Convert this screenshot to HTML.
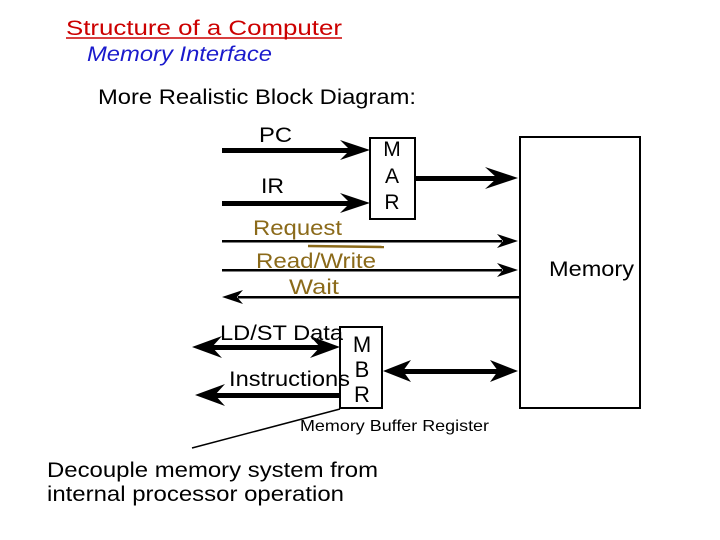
<!DOCTYPE html>
<html><head><style>
body{margin:0;width:720px;height:540px;background:#fff;overflow:hidden;font-family:"Liberation Sans",sans-serif}
svg{position:absolute;left:0;top:0}
</style></head><body>
<svg width="720" height="540" font-family="Liberation Sans, sans-serif">
<text x="66" y="35" font-size="21" fill="#cc0000" textLength="276" lengthAdjust="spacingAndGlyphs">Structure of a Computer</text>
<line x1="66" y1="38" x2="342" y2="38" stroke="#cc0000" stroke-width="1.5"/>
<text x="87" y="61" font-size="21" fill="#1a1acc" font-style="italic" textLength="185" lengthAdjust="spacingAndGlyphs">Memory Interface</text>
<text x="98" y="104" font-size="21" textLength="318" lengthAdjust="spacingAndGlyphs">More Realistic Block Diagram:</text>
<text x="259" y="142" font-size="21" textLength="33" lengthAdjust="spacingAndGlyphs">PC</text>
<text x="261" y="193" font-size="21" textLength="23" lengthAdjust="spacingAndGlyphs">IR</text>
<rect x="370" y="138" width="45" height="81" fill="#fff" stroke="#000" stroke-width="2"/>
<text x="392" y="156" font-size="21" text-anchor="middle">M</text>
<text x="392" y="183" font-size="21" text-anchor="middle">A</text>
<text x="392" y="209" font-size="21" text-anchor="middle">R</text>
<rect x="520" y="137" width="120" height="271" fill="#fff" stroke="#000" stroke-width="2"/>
<text x="549" y="276" font-size="21" textLength="85" lengthAdjust="spacingAndGlyphs">Memory</text>
<g fill="#000">
<rect x="222" y="148" width="130" height="5"/><polygon points="370,150 340,140 350,150 340,160"/>
<rect x="222" y="201" width="130" height="5"/><polygon points="370,203 340,193 350,203 340,213"/>
<rect x="415" y="176" width="85" height="5"/><polygon points="518,178 485,167 497,178 485,189"/>
<rect x="222" y="240" width="280" height="2.5"/><polygon points="518,241 497,234 503,241 497,248"/>
<rect x="222" y="269" width="280" height="2.5"/><polygon points="518,270 497,263 503,270 497,277"/>
<rect x="238" y="296" width="281" height="2.5"/><polygon points="222,297 243,290 237,297 243,304"/>
<rect x="210" y="345" width="115" height="5"/><polygon points="192,347 222,336 212,347 222,358"/><polygon points="340,347 310,336 320,347 310,358"/>
<rect x="210" y="393" width="130" height="5"/><polygon points="195,395 225,384 215,395 225,406"/>
<rect x="398" y="369" width="105" height="5"/><polygon points="383,371 411,360 403,371 411,382"/><polygon points="518,371 490,360 498,371 490,382"/>
</g>
<text x="253" y="235" font-size="21" fill="#8b6a1a" textLength="89" lengthAdjust="spacingAndGlyphs">Request</text>
<line x1="308" y1="246" x2="384" y2="247" stroke="#8b6a1a" stroke-width="2.5"/>
<text x="256" y="268" font-size="21" fill="#8b6a1a" textLength="120" lengthAdjust="spacingAndGlyphs">Read/Write</text>
<text x="289" y="294" font-size="21" fill="#8b6a1a" textLength="50" lengthAdjust="spacingAndGlyphs">Wait</text>
<rect x="340" y="327" width="42" height="81" fill="#fff" stroke="#000" stroke-width="2"/>
<text x="220" y="340" font-size="21" textLength="123" lengthAdjust="spacingAndGlyphs">LD/ST Data</text>
<text x="229" y="386" font-size="21" textLength="121" lengthAdjust="spacingAndGlyphs">Instructions</text>
<text x="362" y="352" font-size="22" text-anchor="middle">M</text>
<text x="362" y="377" font-size="22" text-anchor="middle">B</text>
<text x="362" y="402" font-size="22" text-anchor="middle">R</text>
<line x1="192" y1="448" x2="340" y2="409" stroke="#000" stroke-width="1.5"/>
<text x="300" y="431" font-size="16" textLength="189" lengthAdjust="spacingAndGlyphs">Memory Buffer Register</text>
<text x="47" y="477" font-size="21" textLength="331" lengthAdjust="spacingAndGlyphs">Decouple memory system from</text>
<text x="47" y="501" font-size="21" textLength="297" lengthAdjust="spacingAndGlyphs">internal processor operation</text>
</svg>
</body></html>
